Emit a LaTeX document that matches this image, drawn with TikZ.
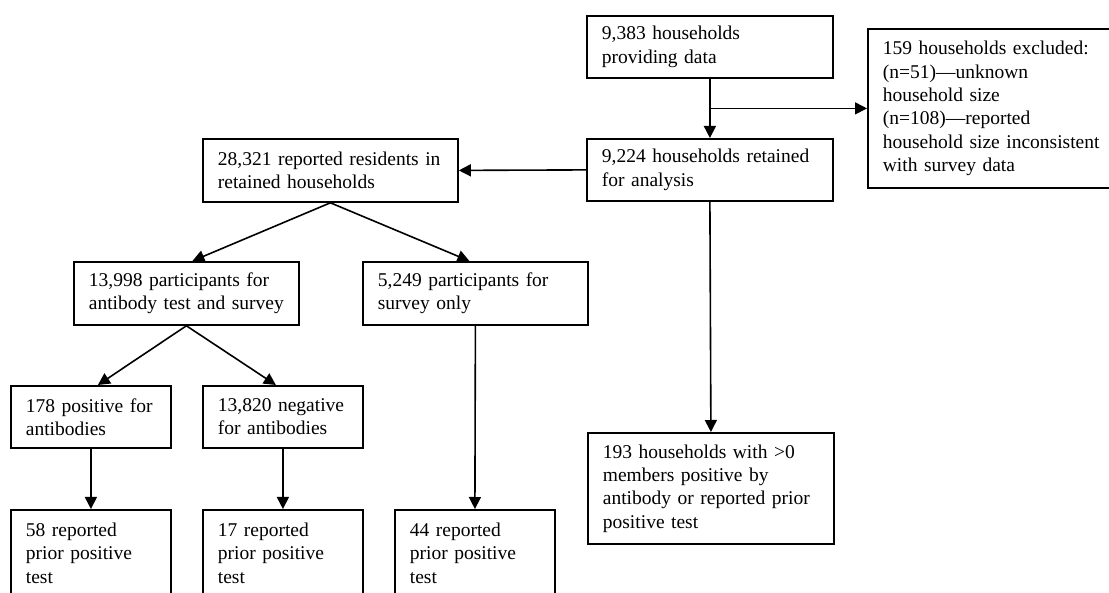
\documentclass[tikz,border=0pt]{standalone}
\usepackage{fontspec}
\setmainfont{Liberation Serif}
\usepackage{tikz}
\usetikzlibrary{arrows.meta, positioning, calc}
\tikzset{
  flowbox/.style={draw, line width=1.8pt, rectangle, anchor=north west, align=left,
                  inner xsep=15pt, inner ysep=0pt, font=\fontsize{19.5}{23.3}\selectfont},
  openbox/.style={flowbox, inner ysep=13pt},
  flowarrow/.style={line width=1.6pt, -{Triangle[length=12pt, width=12pt]}}
}

\begin{document}
\begin{tikzpicture}[x=1pt, y=-1pt]
                \useasboundingbox (0,0) rectangle (1109,593);
                \clip (0,0) rectangle (1109,593);

                % household stage
                \node[flowbox, text width=216pt, minimum height=62pt] (provided) at (586,15)
                      {9,383 households\\providing data};
                \node[flowbox, text width=222pt, minimum height=159pt] (excluded) at (867,28)
                      {159 households excluded:\\(n=51)---unknown\\household size\\(n=108)---reported\\household size inconsistent\\with survey data};
                \node[flowbox, text width=216pt, minimum height=62pt] (retained) at (586,138)
                      {9,224 households retained\\for analysis};
                \node[flowbox, text width=216pt, minimum height=111pt] (hhpos) at (587,432)
                      {193 households with >0\\members positive by\\antibody or reported prior\\positive test};

                % resident stage
                \node[flowbox, text width=225pt, minimum height=63pt] (residents) at (202,138)
                      {28,321 reported residents in\\retained households};
                \node[flowbox, text width=195pt, minimum height=63pt] (antibody) at (73,261)
                      {13,998 participants for\\antibody test and survey};
                \node[flowbox, text width=195pt, minimum height=63pt] (surveyonly) at (362,261)
                      {5,249 participants for\\survey only};
                \node[flowbox, text width=130pt, minimum height=62pt] (positive) at (10,385)
                      {178 positive for\\antibodies};
                \node[flowbox, text width=130pt, minimum height=62pt] (negative) at (202,385)
                      {13,820 negative\\for antibodies};

                % prior tests (boxes run past the lower edge)
                \node[openbox, text width=130pt] (priorpos) at (10,509)
                      {58 reported\\prior positive\\test};
                \node[openbox, text width=130pt] (priorneg) at (202,509)
                      {17 reported\\prior positive\\test};
                \node[openbox, text width=130pt] (priorsurv) at (394,509)
                      {44 reported\\prior positive\\test};

                % connectors
                \coordinate (split) at ($(provided.south)!0.5!(retained.north)$);
                \draw[flowarrow] (provided.south) -- (retained.north);
                \draw[flowarrow] (split) -- (split -| excluded.west);
                \draw[flowarrow] (retained.west) -- (residents.east);
                \draw[flowarrow] (retained.south) -- (hhpos.north);
                \draw[flowarrow] (residents.south) -- ([xshift=6pt]antibody.north);
                \draw[flowarrow] (residents.south) -- ([xshift=-6pt]surveyonly.north);
                \draw[flowarrow] (antibody.south) -- ([xshift=7pt]positive.north);
                \draw[flowarrow] (antibody.south) -- ([xshift=-7pt]negative.north);
                \draw[flowarrow] (positive.south) -- (priorpos.north);
                \draw[flowarrow] (negative.south) -- (priorneg.north);
                \draw[flowarrow] (surveyonly.south) -- (priorsurv.north);
            \end{tikzpicture}
\end{document}
